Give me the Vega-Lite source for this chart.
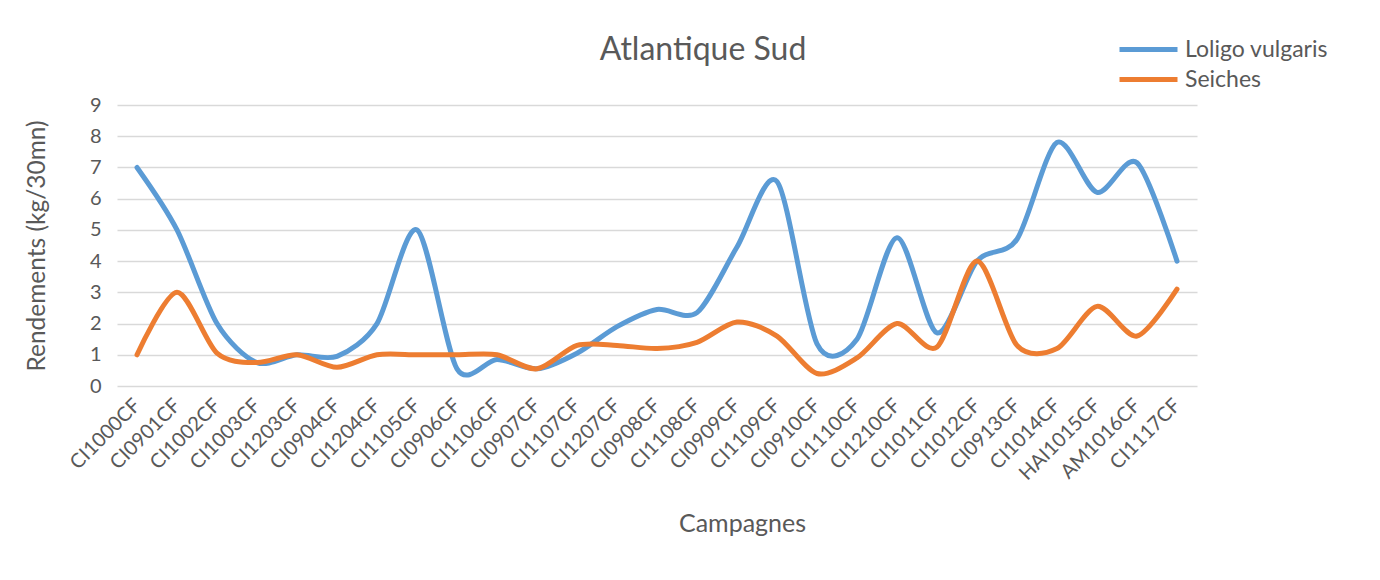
{
  "$schema": "https://vega.github.io/schema/vega-lite/v6.json",
  "autosize": "none",
  "width": 1080,
  "height": 281,
  "padding": {"left": 117, "top": 105, "right": 183, "bottom": 194},
  "background": "white",
  "config": {
    "font": "Lato",
    "view": {"stroke": null},
    "axis": {"labelColor": "#595959", "titleColor": "#595959", "titleFontWeight": "normal", "gridColor": "#d9d9d9", "gridWidth": 1.3}
  },
  "title": {"text": "Atlantique Sud", "fontSize": 32, "fontWeight": "normal", "color": "#595959", "anchor": "middle", "dx": 46, "offset": -59.5, "baseline": "alphabetic"},
  "data": {"values": [
    {"c": "CI1000CF", "s": "Loligo vulgaris", "v": 7.0},
    {"c": "CI0901CF", "s": "Loligo vulgaris", "v": 5.0},
    {"c": "CI1002CF", "s": "Loligo vulgaris", "v": 2.0},
    {"c": "CI1003CF", "s": "Loligo vulgaris", "v": 0.75},
    {"c": "CI1203CF", "s": "Loligo vulgaris", "v": 1.0},
    {"c": "CI0904CF", "s": "Loligo vulgaris", "v": 0.95},
    {"c": "CI1204CF", "s": "Loligo vulgaris", "v": 2.0},
    {"c": "CI1105CF", "s": "Loligo vulgaris", "v": 5.0},
    {"c": "CI0906CF", "s": "Loligo vulgaris", "v": 0.55},
    {"c": "CI1106CF", "s": "Loligo vulgaris", "v": 0.85},
    {"c": "CI0907CF", "s": "Loligo vulgaris", "v": 0.55},
    {"c": "CI1107CF", "s": "Loligo vulgaris", "v": 1.05},
    {"c": "CI1207CF", "s": "Loligo vulgaris", "v": 1.9},
    {"c": "CI0908CF", "s": "Loligo vulgaris", "v": 2.45},
    {"c": "CI1108CF", "s": "Loligo vulgaris", "v": 2.35},
    {"c": "CI0909CF", "s": "Loligo vulgaris", "v": 4.45},
    {"c": "CI1109CF", "s": "Loligo vulgaris", "v": 6.55},
    {"c": "CI0910CF", "s": "Loligo vulgaris", "v": 1.35},
    {"c": "CI1110CF", "s": "Loligo vulgaris", "v": 1.5},
    {"c": "CI1210CF", "s": "Loligo vulgaris", "v": 4.75},
    {"c": "CI1011CF", "s": "Loligo vulgaris", "v": 1.7},
    {"c": "CI1012CF", "s": "Loligo vulgaris", "v": 4.0},
    {"c": "CI0913CF", "s": "Loligo vulgaris", "v": 4.7},
    {"c": "CI1014CF", "s": "Loligo vulgaris", "v": 7.8},
    {"c": "HAI1015CF", "s": "Loligo vulgaris", "v": 6.2},
    {"c": "AM1016CF", "s": "Loligo vulgaris", "v": 7.15},
    {"c": "CI1117CF", "s": "Loligo vulgaris", "v": 4.0},
    {"c": "CI1000CF", "s": "Seiches", "v": 1.0},
    {"c": "CI0901CF", "s": "Seiches", "v": 3.0},
    {"c": "CI1002CF", "s": "Seiches", "v": 1.05},
    {"c": "CI1003CF", "s": "Seiches", "v": 0.75},
    {"c": "CI1203CF", "s": "Seiches", "v": 1.0},
    {"c": "CI0904CF", "s": "Seiches", "v": 0.6},
    {"c": "CI1204CF", "s": "Seiches", "v": 1.0},
    {"c": "CI1105CF", "s": "Seiches", "v": 1.0},
    {"c": "CI0906CF", "s": "Seiches", "v": 1.0},
    {"c": "CI1106CF", "s": "Seiches", "v": 1.0},
    {"c": "CI0907CF", "s": "Seiches", "v": 0.55},
    {"c": "CI1107CF", "s": "Seiches", "v": 1.3},
    {"c": "CI1207CF", "s": "Seiches", "v": 1.3},
    {"c": "CI0908CF", "s": "Seiches", "v": 1.2},
    {"c": "CI1108CF", "s": "Seiches", "v": 1.4},
    {"c": "CI0909CF", "s": "Seiches", "v": 2.05},
    {"c": "CI1109CF", "s": "Seiches", "v": 1.6},
    {"c": "CI0910CF", "s": "Seiches", "v": 0.4},
    {"c": "CI1110CF", "s": "Seiches", "v": 0.9},
    {"c": "CI1210CF", "s": "Seiches", "v": 2.0},
    {"c": "CI1011CF", "s": "Seiches", "v": 1.25},
    {"c": "CI1012CF", "s": "Seiches", "v": 4.0},
    {"c": "CI0913CF", "s": "Seiches", "v": 1.3},
    {"c": "CI1014CF", "s": "Seiches", "v": 1.2},
    {"c": "HAI1015CF", "s": "Seiches", "v": 2.55},
    {"c": "AM1016CF", "s": "Seiches", "v": 1.6},
    {"c": "CI1117CF", "s": "Seiches", "v": 3.1}
  ]},
  "mark": {"type": "line", "interpolate": "cardinal", "tension": 0.15, "strokeWidth": 5, "strokeCap": "round"},
  "encoding": {
    "x": {
      "field": "c", "type": "nominal", "sort": null,
      "scale": {"type": "point", "padding": 0.5},
      "axis": {"title": "Campagnes", "titleFontSize": 25, "titleX": 625, "titleY": 137, "titleBaseline": "middle",
               "labelAngle": -45, "labelFontSize": 20, "labelAlign": "right", "labelBaseline": "middle", "labelPadding": 16,
               "domain": false, "ticks": false, "grid": false}
    },
    "y": {
      "field": "v", "type": "quantitative",
      "scale": {"domain": [0, 9], "nice": false},
      "axis": {"title": "Rendements (kg/30mn)", "titleFontSize": 24.5, "titleX": -80, "titleY": 140.5, "titleAngle": -90, "titleAlign": "center", "titleBaseline": "middle",
               "values": [0,1,2,3,4,5,6,7,8,9], "labelFontSize": 20, "labelPadding": 16, "domain": false, "ticks": false, "grid": true}
    },
    "color": {
      "field": "s", "type": "nominal",
      "scale": {"domain": ["Loligo vulgaris", "Seiches"], "range": ["#5B9BD5", "#ED7D31"]},
      "legend": {"title": null, "orient": "none", "legendX": 1014.5, "legendY": -72.5, "symbolType": "M-2,0H2", "symbolSize": 841, "symbolStrokeWidth": 5,
                 "labelFontSize": 23, "labelColor": "#595959", "rowPadding": 1, "labelOffset": 19.5}
    }
  }
}
